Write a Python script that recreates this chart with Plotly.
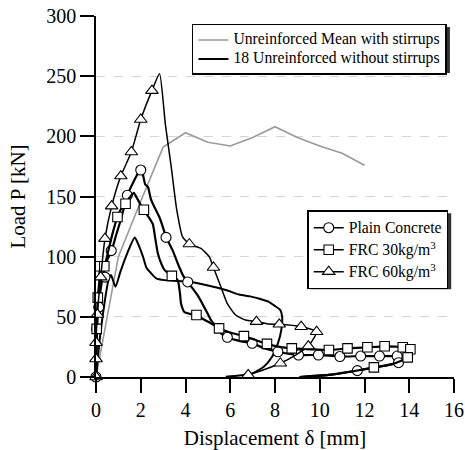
import plotly.graph_objects as go

# ---- data: displacement [mm] and load [kN] ----
mean_stirrups_x = [0, 1, 2, 3, 4, 5, 6, 7, 8, 9, 10, 11, 12]
mean_stirrups_p = [0, 100, 146, 191, 203, 195, 192, 199, 208, 199, 192, 186, 176]

no_stirrups_x = [0, 0.18, 0.4, 0.55, 0.67, 0.87, 1.1, 1.4, 1.73, 1.85, 2.1, 2.25, 2.47, 2.69,
                 3.06, 3.5, 4.17, 4.91, 5.8, 6.4, 6.9, 7.3, 7.72, 8.0, 8.24, 8.32, 8.28, 8.13,
                 7.87, 7.5, 6.98, 6.4, 5.8]
no_stirrups_p = [0, 33.5, 64, 80, 84.7, 75, 88, 103, 116, 112, 100, 91, 86, 82,
                 80.5, 80, 79.2, 76.4, 72.3, 68.5, 67, 65, 62.5, 59, 55.6, 50, 39, 28,
                 16.9, 8.6, 3, 1.2, 0.3]

plain_x = [0, 0.02, 0.05, 0.1, 0.2, 0.3, 0.45, 0.7, 0.9, 1.1, 1.4, 1.7, 1.9, 2.0, 2.1, 2.2,
           2.32, 2.45, 2.54, 2.7, 2.83, 3.0, 3.13, 3.3, 3.43, 3.6, 3.73, 3.9, 4.1, 4.3, 4.54,
           4.75, 4.98, 5.15, 5.35, 5.6, 5.87, 6.4, 6.98, 7.5, 8.13, 9.05, 9.94, 10.9, 11.83,
           12.67, 13.46, 13.93, 14.05, 13.52, 12.5, 11.68, 10.4, 9.1]
plain_p = [0, 20, 40, 58, 72, 83, 95, 105, 118, 130, 151, 163, 170, 172, 168, 160,
           158, 148, 144, 138, 133, 124, 116, 110, 105, 97, 91, 84, 79, 74, 68,
           61, 53, 47, 42, 36, 33, 30, 28, 24, 21, 18.3, 18.3, 17, 17.4,
           17.4, 17.4, 17.4, 16.5, 11.9, 8, 5.3, 1.7, 0]
plain_mark_x = [0, 0.03, 0.12, 0.4, 0.68, 1.4, 2.0, 3.13, 4.1, 5.87, 6.98, 8.13, 9.05, 9.94,
                10.9, 11.83, 12.67, 13.46, 13.93, 13.52, 11.68]
plain_mark_p = [0, 40, 58, 83, 105, 151, 172, 116, 79, 33, 28, 21, 18.3, 18.3,
                17, 17.4, 17.4, 17.4, 17.4, 11.9, 5.3]

frc30_x = [0, 0.03, 0.08, 0.15, 0.18, 0.3, 0.37, 0.55, 0.75, 0.96, 1.1, 1.32, 1.5, 1.69, 1.85,
           2.0, 2.14, 2.35, 2.54, 2.65, 2.76, 2.9, 3.06, 3.39, 3.65, 3.75, 3.8, 3.95, 4.2,
           4.49, 4.8, 5.13, 5.5, 6.0, 6.61, 7.1, 7.64, 8.2, 8.75, 9.6, 10.41, 11.24, 12.13,
           12.9, 13.71, 14.05, 13.93, 13.2, 12.42, 11.5, 10.4, 9.1]
frc30_p = [0, 40, 66, 80, 92, 92, 92, 105, 120, 133, 139, 144, 149, 153, 148,
           143, 139, 133, 127, 115, 103, 95, 89, 84, 80.5, 70, 61, 54, 52.5,
           51.5, 48, 44.6, 40.4, 37, 34, 31, 27.5, 25, 23.8, 23, 22.4, 23.8, 24.7,
           25.5, 24.7, 23, 16.3, 10.5, 8, 4.8, 1.7, 0]
frc30_mark_x = [0.03, 0.08, 0.18, 0.37, 0.96, 1.32, 2.14, 3.39, 4.49, 5.5, 6.61, 7.64, 8.75,
                10.41, 11.24, 12.13, 12.9, 13.71, 14.05, 13.93, 12.42]
frc30_mark_p = [40, 66, 92, 92, 133, 144, 139, 84, 51.5, 40.4, 34, 27.5, 23.8,
                22.4, 23.8, 24.7, 25.5, 24.7, 23, 16.3, 8]

frc60_x = [0, 0, 0, 0.06, 0.21, 0.4, 0.7, 1.11, 1.58, 2.0, 2.5, 2.84, 3.1, 3.36, 3.6, 3.87,
           4.17, 4.69, 5.06, 5.25, 5.58, 5.87, 6.24, 6.69, 7.17, 7.72, 8.19, 9.17, 9.86,
           9.49, 8.9, 8.24, 7.5, 6.8]
frc60_p = [0, 15, 28.5, 52, 83, 115, 142, 167, 187, 214, 238, 252, 210, 175, 140, 116.5,
           110.5, 106.8, 100, 91, 75, 61, 51.5, 47.3, 46, 44, 43.8, 41.8, 37.6,
           25.7, 18, 11.4, 6, 1.7]
frc60_mark_x = [0, 0, 0, 0.06, 0.21, 0.4, 0.7, 1.11, 1.58, 2.0, 2.5, 4.17, 5.25, 7.17, 8.19,
                9.17, 9.86, 9.49, 8.24, 6.8]
frc60_mark_p = [0, 15, 28.5, 52, 83, 115, 142, 167, 187, 214, 238, 110.5, 91, 46, 43.8,
                41.8, 37.6, 25.7, 11.4, 1.7]

x_ticks = [0, 2, 4, 6, 8, 10, 12, 14, 16]
y_ticks = [0, 50, 100, 150, 200, 250, 300]

FONT = "Liberation Serif"
LEGEND_TEXT = 15.7


def legend_label(text):
    # legend row spacing follows legend.font.size; the label itself is set larger
    return f'<span style="font-size:{LEGEND_TEXT}px">{text}</span>'


fig = go.Figure()

# reference curves (upper legend)
fig.add_trace(go.Scatter(x=mean_stirrups_x, y=mean_stirrups_p, mode="lines",
                         line=dict(color="#9a9a9a", width=1.6),
                         name=legend_label("Unreinforced Mean with stirrups"), legend="legend"))
fig.add_trace(go.Scatter(x=no_stirrups_x, y=no_stirrups_p, mode="lines",
                         line=dict(color="black", width=2, shape="spline", smoothing=0.6),
                         name=legend_label("18 Unreinforced without stirrups"), legend="legend"))

series = [
    ("Plain Concrete", plain_x, plain_p, plain_mark_x, plain_mark_p, "circle", 10, 2.2),
    ("FRC 30kg/m<sup>3</sup>", frc30_x, frc30_p, frc30_mark_x, frc30_mark_p, "square", 9.5, 2.2),
    ("FRC 60kg/m<sup>3</sup>", frc60_x, frc60_p, frc60_mark_x, frc60_mark_p, "triangle-up", 11, 1.5),
]
for name, cx, cp, mx, mp, sym, size, lw in series:
    fig.add_trace(go.Scatter(x=cx, y=cp, mode="lines", showlegend=False, cliponaxis=False,
                             line=dict(color="black", width=lw, shape="spline", smoothing=0.5)))
    fig.add_trace(go.Scatter(x=mx, y=mp, mode="markers", showlegend=False, cliponaxis=False,
                             marker=dict(symbol=sym, size=size, color="white",
                                         line=dict(color="black", width=1.1))))
    # legend entry (line with marker)
    fig.add_trace(go.Scatter(x=[None], y=[None], mode="lines+markers", name=legend_label(name),
                             legend="legend2",
                             line=dict(color="black", width=1.5),
                             marker=dict(symbol=sym, size=size, color="white",
                                         line=dict(color="black", width=1.1))))


def legend_style(row_font):
    return dict(bgcolor="white", bordercolor="black", borderwidth=1.5,
                font=dict(family=FONT, size=row_font, color="black"),
                xanchor="left", yanchor="top", tracegroupgap=0)


# drop shadows behind the two legend boxes (pixel offsets from the legend corners)
for lx, ly, w, h in [(0.268, 0.978, 255, 46), (0.590, 0.462, 141, 76)]:
    fig.add_shape(type="rect", xref="paper", yref="paper", xsizemode="pixel",
                  ysizemode="pixel", xanchor=lx, yanchor=ly,
                  x0=3, x1=w + 3, y0=-3, y1=-h - 3,
                  fillcolor="#333333", line=dict(width=0), layer="above")

fig.update_layout(
    width=465, height=450,
    margin=dict(l=96, r=11, t=16, b=73, autoexpand=False),
    paper_bgcolor="white", plot_bgcolor="white",
    font=dict(family=FONT, color="black"),
    legend=dict(x=0.268, y=0.978, **legend_style(11.3)),
    legend2=dict(x=0.590, y=0.462, **legend_style(14.6)),
    xaxis=dict(range=[0, 16], tickvals=x_ticks, ticks="outside", ticklen=14, tickwidth=1.5,
               tickcolor="black", showline=True, linecolor="black", linewidth=1.5,
               showgrid=False, zeroline=False, ticklabeloverflow="allow", automargin=False,
               tickfont=dict(family=FONT, size=20),
               title=dict(text="Displacement δ [mm]", font=dict(family=FONT, size=21))),
    yaxis=dict(range=[0, 300], tickvals=y_ticks, ticks="outside", ticklen=14, tickwidth=1.5,
               tickcolor="black", showline=True, linecolor="black", linewidth=1.5,
               showgrid=True, gridcolor="#d4d4d4", griddash="dash", gridwidth=1,
               zeroline=False, automargin=False,
               tickfont=dict(family=FONT, size=20),
               title=dict(text="Load P [kN]", font=dict(family=FONT, size=21))),
)

fig.write_html("out.html")
